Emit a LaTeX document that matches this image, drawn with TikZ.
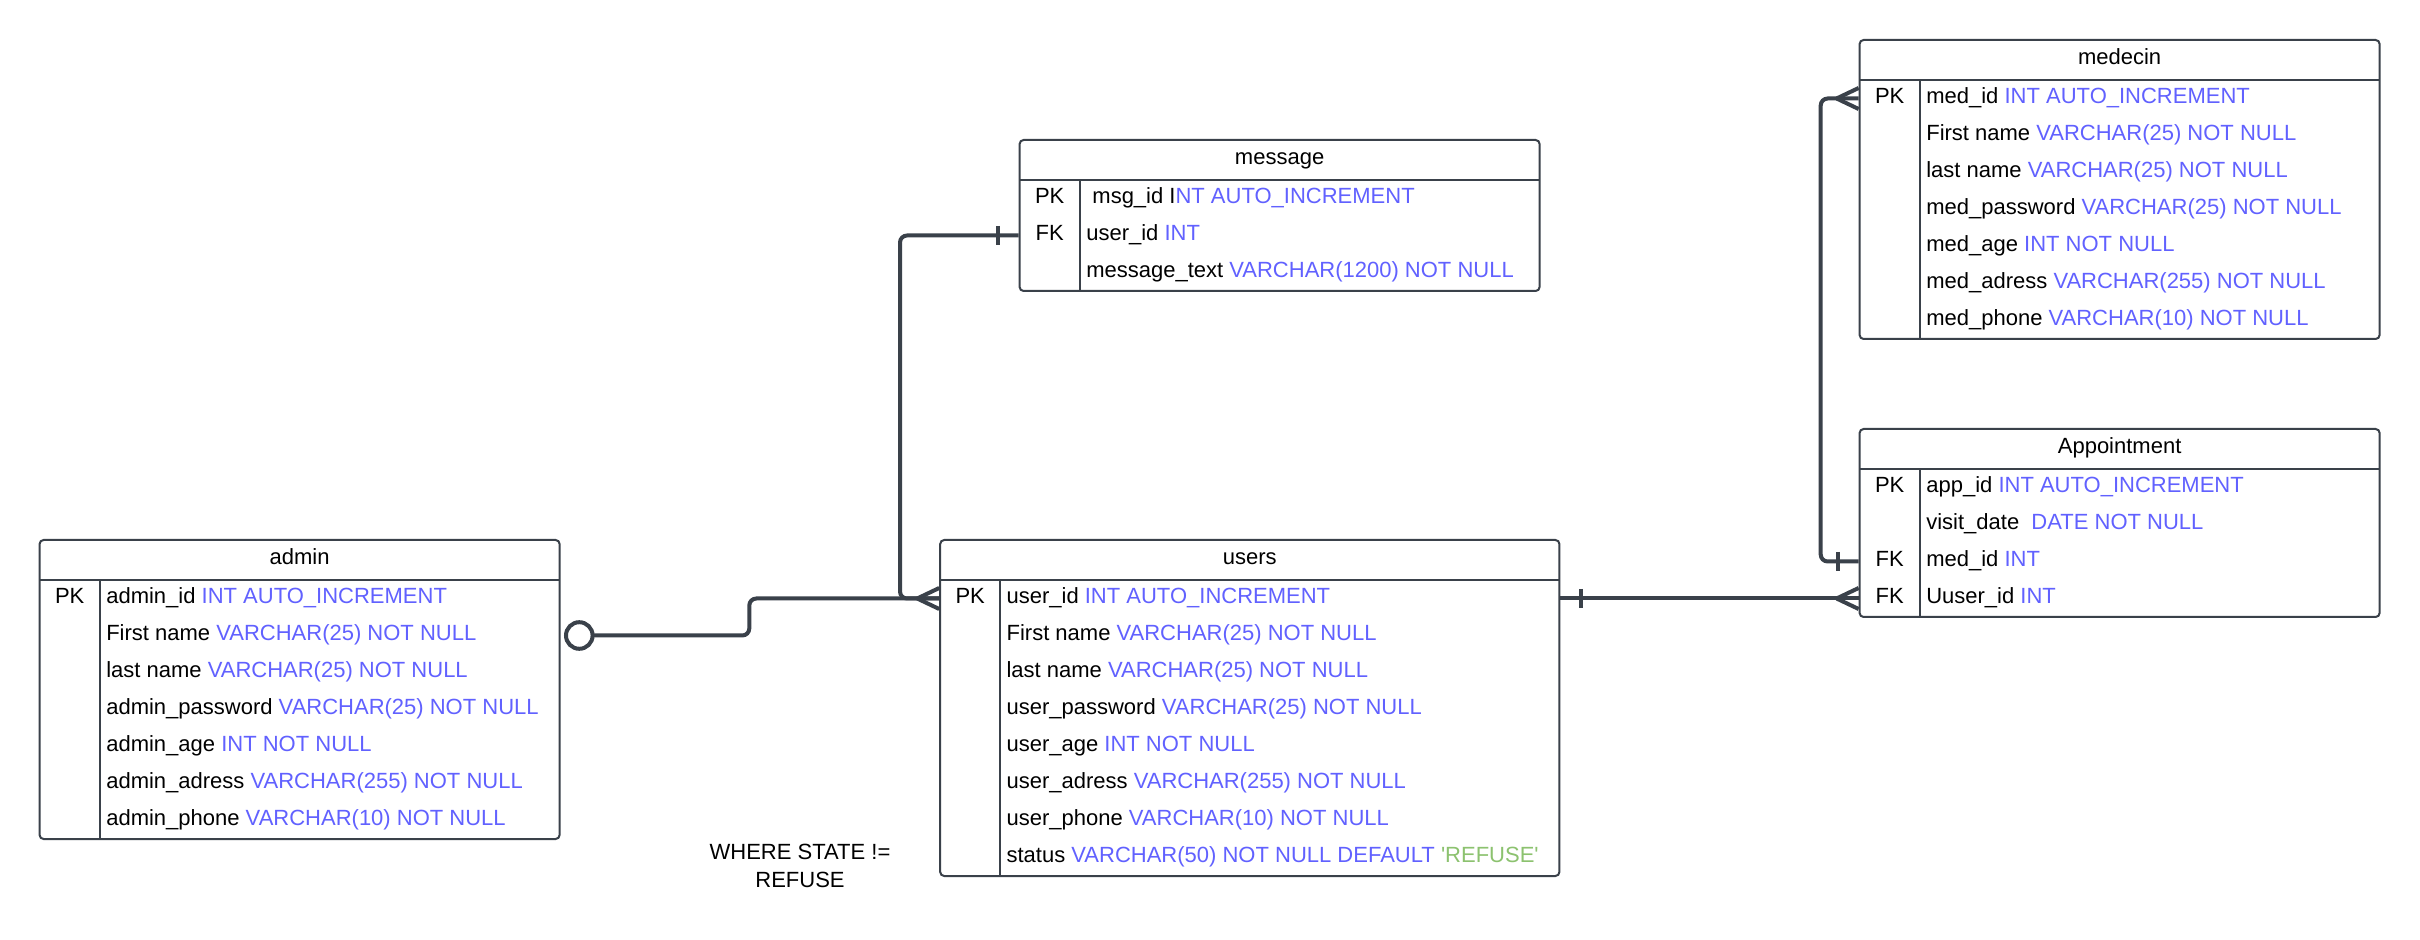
\documentclass[tikz,border=0pt]{standalone}
\usepackage{fontspec}
\setmainfont{Liberation Sans}
\usetikzlibrary{fit}
\definecolor{ink}{HTML}{3A414A}
\definecolor{typeblue}{HTML}{6161FF}
\definecolor{defgreen}{HTML}{8CC26F}
\newcommand\ty[1]{\textcolor{typeblue}{#1}}
\newcommand\dflt[1]{\textcolor{defgreen}{#1}}

\begin{document}
\begin{tikzpicture}[x=0.5pt,y=-0.5pt,
  txt/.style={font=\fontsize{11pt}{13.85pt}\selectfont, text=black, inner ysep=0pt, text height=8pt, text depth=3pt},
  tbl/.style={draw=ink, line width=1pt, rounded corners=2pt, inner sep=0pt},
  tblgrid/.style={draw=ink, line width=1pt},
  hdr/.style={txt, inner xsep=0pt},
  keycol/.style={txt, inner xsep=0pt},
  fld/.style={txt, anchor=west, inner xsep=3pt},
  cond/.style={font=\fontsize{11pt}{13.85pt}\selectfont, align=center, inner sep=0pt},
  conn/.style={draw=ink, line width=2pt, rounded corners=3.5pt},
  crow/.pic={\draw[conn] (-22,0) -- (0,-10.5) (-22,0) -- (0,10.5);},
  barW/.pic={\draw[conn] (-21,-9.5) -- (-21,9.5);},
  barE/.pic={\draw[conn] (21,-9.5) -- (21,9.5);},
  zeroE/.pic={\draw[conn, fill=white] (18.7,0) circle[radius=13.3];}]

\fill[white] (0,0) rectangle (2420,940);
\useasboundingbox (0,0) rectangle (2420,940);

% ---------------- admin ----------------
\node[tbl, fit={(39.6,540) (559.6,839)}] (admin) {};
\draw[tblgrid] (39.6,580) -- (559.6,580) (99.9,580) -- (99.9,839);
\node[hdr] (admin-h) at (299.6,560) {admin};
\node[keycol] at (69.7,598.5) {PK};
\node[fld] (adm1) at (99.9,598.5) {admin\_id \ty{INT AUTO\_INCREMENT}};
\node[fld] (adm2) at (99.9,635.5) {First name \ty{VARCHAR(25) NOT NULL}};
\node[fld] (adm3) at (99.9,672.5) {last name \ty{VARCHAR(25) NOT NULL}};
\node[fld] (adm4) at (99.9,709.5) {admin\_password \ty{VARCHAR(25) NOT NULL}};
\node[fld] (adm5) at (99.9,746.5) {admin\_age \ty{INT NOT NULL}};
\node[fld] (adm6) at (99.9,783.5) {admin\_adress \ty{VARCHAR(255) NOT NULL}};
\node[fld] (adm7) at (99.9,820.5) {admin\_phone \ty{VARCHAR(10) NOT NULL}};

% ---------------- users ----------------
\node[tbl, fit={(940.2,540) (1559.4,876)}] (users) {};
\draw[tblgrid] (940.2,580) -- (1559.4,580) (1000.2,580) -- (1000.2,876);
\node[hdr] (users-h) at (1249.8,560) {users};
\node[keycol] at (970.2,598.5) {PK};
\node[fld] (usr1) at (1000.2,598.5) {user\_id \ty{INT AUTO\_INCREMENT}};
\node[fld] (usr2) at (1000.2,635.5) {First name \ty{VARCHAR(25) NOT NULL}};
\node[fld] (usr3) at (1000.2,672.5) {last name \ty{VARCHAR(25) NOT NULL}};
\node[fld] (usr4) at (1000.2,709.5) {user\_password \ty{VARCHAR(25) NOT NULL}};
\node[fld] (usr5) at (1000.2,746.5) {user\_age \ty{INT NOT NULL}};
\node[fld] (usr6) at (1000.2,783.5) {user\_adress \ty{VARCHAR(255) NOT NULL}};
\node[fld] (usr7) at (1000.2,820.5) {user\_phone \ty{VARCHAR(10) NOT NULL}};
\node[fld] (usr8) at (1000.2,857.5) {status \ty{VARCHAR(50) NOT NULL DEFAULT} \dflt{\textquotesingle REFUSE\textquotesingle}};

\node[cond] (where) at (800,866) {WHERE STATE !=\\REFUSE};

% ---------------- message ----------------
\node[tbl, fit={(1019.6,140) (1539.6,291)}] (msg) {};
\draw[tblgrid] (1019.6,180) -- (1539.6,180) (1079.9,180) -- (1079.9,291);
\node[hdr] (msg-h) at (1279.6,160) {message};
\node[keycol] at (1049.7,198.5) {PK};
\node[keycol] at (1049.7,235.5) {FK};
\node[fld] (msg1) at (1079.9,198.5) {\ msg\_id I\ty{NT AUTO\_INCREMENT}};
\node[fld] (msg2) at (1079.9,235.5) {user\_id \ty{INT}};
\node[fld] (msg3) at (1079.9,272.5) {message\_text \ty{VARCHAR(1200) NOT NULL}};

% ---------------- medecin ----------------
\node[tbl, fit={(1859.6,40) (2379.6,339)}] (med) {};
\draw[tblgrid] (1859.6,80) -- (2379.6,80) (1919.9,80) -- (1919.9,339);
\node[hdr] (med-h) at (2119.6,60) {medecin};
\node[keycol] at (1889.7,98.5) {PK};
\node[fld] (med1) at (1919.9,98.5) {med\_id \ty{INT AUTO\_INCREMENT}};
\node[fld] (med2) at (1919.9,135.5) {First name \ty{VARCHAR(25) NOT NULL}};
\node[fld] (med3) at (1919.9,172.5) {last name \ty{VARCHAR(25) NOT NULL}};
\node[fld] (med4) at (1919.9,209.5) {med\_password \ty{VARCHAR(25) NOT NULL}};
\node[fld] (med5) at (1919.9,246.5) {med\_age \ty{INT NOT NULL}};
\node[fld] (med6) at (1919.9,283.5) {med\_adress \ty{VARCHAR(255) NOT NULL}};
\node[fld] (med7) at (1919.9,320.5) {med\_phone \ty{VARCHAR(10) NOT NULL}};

% ---------------- Appointment ----------------
\node[tbl, fit={(1859.6,429) (2379.6,617)}] (app) {};
\draw[tblgrid] (1859.6,469) -- (2379.6,469) (1919.9,469) -- (1919.9,617);
\node[hdr] (app-h) at (2119.6,449) {Appointment};
\node[keycol] at (1889.7,487.5) {PK};
\node[keycol] at (1889.7,561.5) {FK};
\node[keycol] at (1889.7,598.5) {FK};
\node[fld] (app1) at (1919.9,487.5) {app\_id \ty{INT AUTO\_INCREMENT}};
\node[fld] (app2) at (1919.9,524.5) {visit\_date\ \ \ty{DATE NOT NULL}};
\node[fld] (app3) at (1919.9,561.5) {med\_id \ty{INT}};
\node[fld] (app4) at (1919.9,598.5) {Uuser\_id \ty{INT}};

% ---------------- relationship end points ----------------
\path (admin.east |- adm2) coordinate (a2) ++(32,0) coordinate (a2z);
\coordinate (u1) at (users.west |- usr1);
\coordinate (u1e) at (users.east |- usr1);
\coordinate (m2) at (msg.west |- msg2);
\coordinate (ap3) at (app.west |- app3);
\coordinate (ap4) at (app.west |- app4);
\coordinate (md1) at (med.west |- med1);
\coordinate (bendA) at (749.3,0);
\coordinate (bendM) at (900,0);
\coordinate (bendD) at (1820.7,0);

% admin -> users
\draw[conn] (a2z) -| (bendA |- u1) -- (u1);
% message -> users
\draw[conn] (m2) -| (bendM |- u1) -- (u1);
% users -> Appointment
\draw[conn] (u1e) -- (ap4);
% Appointment -> medecin
\draw[conn] (ap3) -| (bendD |- md1) -- (md1);

% cardinality marks
\pic at (a2) {zeroE};
\pic at (u1) {crow};
\pic at (m2) {barW};
\pic at (u1e) {barE};
\pic at (ap4) {crow};
\pic at (ap3) {barW};
\pic at (md1) {crow};

\end{tikzpicture}
\end{document}
